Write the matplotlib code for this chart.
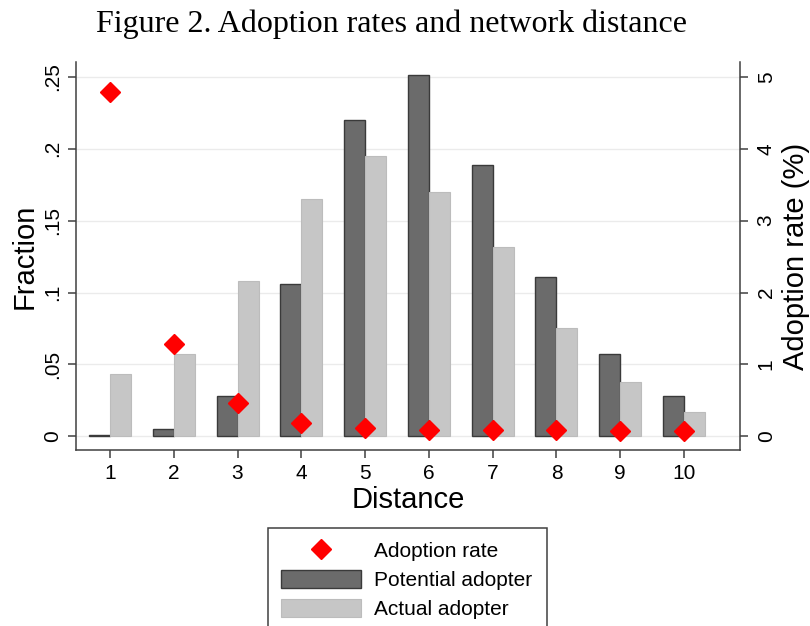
import matplotlib
matplotlib.use("Agg")
import matplotlib.pyplot as plt
from matplotlib.lines import Line2D
from matplotlib.patches import Patch

plt.rcParams["font.family"] = ["Liberation Sans", "DejaVu Sans"]

# distance bins and the three series
distance = [1, 2, 3, 4, 5, 6, 7, 8, 9, 10]
potential_frac = [0.001, 0.005, 0.028, 0.106, 0.220, 0.251, 0.189, 0.111, 0.057, 0.028]
actual_frac = [0.043, 0.057, 0.108, 0.165, 0.195, 0.170, 0.132, 0.075, 0.038, 0.017]
adoption_rate = [4.79, 1.28, 0.47, 0.19, 0.11, 0.09, 0.09, 0.09, 0.08, 0.08]

left_ticks = [0, 0.05, 0.10, 0.15, 0.20, 0.25]
left_ticklabels = ["0", ".05", ".1", ".15", ".2", ".25"]
right_ticks = [0, 1, 2, 3, 4, 5]

DARK = "#6b6b6b"
DARK_EDGE = "#3a3a3a"
LIGHT = "#c6c6c6"
AXIS_COL = "#404040"
BAR_W = 0.33

fig = plt.figure(figsize=(8.10, 6.26), dpi=100)
ax = fig.add_axes([76 / 810, 1 - 450 / 626, 664 / 810, 388 / 626])

ax.set_axisbelow(True)
for y in left_ticks:
    ax.axhline(y, color="#ebebeb", lw=1.0, zorder=0)

ax.bar([d - BAR_W / 2 for d in distance], potential_frac, width=BAR_W,
       color=DARK, edgecolor=DARK_EDGE, linewidth=1.0, zorder=2)
ax.bar([d + BAR_W / 2 for d in distance], actual_frac, width=BAR_W,
       color=LIGHT, edgecolor="#bcbcbc", linewidth=0.8, zorder=2)

ax.set_xlim(0.467, 10.878)
ax.set_ylim(-0.0095, 0.2603)
ax.set_xticks(distance)
ax.set_yticks(left_ticks)
ax.set_yticklabels(left_ticklabels, rotation=90, va="center")
ax.tick_params(axis="both", direction="out", length=6, width=1.1,
               color=AXIS_COL, labelsize=15, pad=4)
ax.spines["top"].set_visible(False)
ax.spines["right"].set_visible(False)
for s in ("left", "bottom"):
    ax.spines[s].set_color(AXIS_COL)
    ax.spines[s].set_linewidth(1.1)

ax.set_xlabel("Distance", fontsize=21)
ax.xaxis.set_label_coords(0.5, -0.093)
ax.set_ylabel("Fraction", fontsize=21)
ax.yaxis.set_label_coords(-0.056, 0.5)

# adoption rate on the right-hand scale
ax2 = ax.twinx()
ax2.plot(distance, adoption_rate, linestyle="none", marker="D",
         markersize=10, color="#ff0000", zorder=3)
ax2.set_ylim(-0.0095 * 20, 0.2603 * 20)
ax2.set_yticks(right_ticks)
ax2.set_yticklabels([str(t) for t in right_ticks], rotation=90, va="center")
ax2.tick_params(axis="y", direction="out", length=6, width=1.1,
                color=AXIS_COL, labelsize=15, pad=6)
for s in ("top", "left", "bottom"):
    ax2.spines[s].set_visible(False)
ax2.spines["right"].set_color(AXIS_COL)
ax2.spines["right"].set_linewidth(1.1)
ax2.set_ylabel("Adoption rate (%)", fontsize=21)
ax2.yaxis.set_label_coords(1.063, 0.5)

fig.text(392 / 810, 1 - 24 / 626, "Figure 2. Adoption rates and network distance",
         family="Liberation Serif", fontsize=23, ha="center", va="center")

handles = [
    Line2D([], [], linestyle="none", marker="D", markersize=10, color="#ff0000"),
    Patch(facecolor=DARK, edgecolor=DARK_EDGE, linewidth=1.0),
    Patch(facecolor=LIGHT, edgecolor="#bcbcbc", linewidth=0.8),
]
labels = ["Adoption rate", "Potential adopter", "Actual adopter"]
leg = fig.legend(handles, labels, loc="upper left",
                 bbox_to_anchor=(268 / 810, 1 - 528 / 626, 279 / 810, 0.0),
                 mode="expand", borderaxespad=0, fontsize=15,
                 handlelength=3.84, handleheight=0.96, handletextpad=0.64,
                 borderpad=0.6, labelspacing=0.43, numpoints=1,
                 fancybox=False, framealpha=1)
leg.get_frame().set_edgecolor(AXIS_COL)
leg.get_frame().set_linewidth(1.1)

fig.savefig("out.png", dpi=100)
